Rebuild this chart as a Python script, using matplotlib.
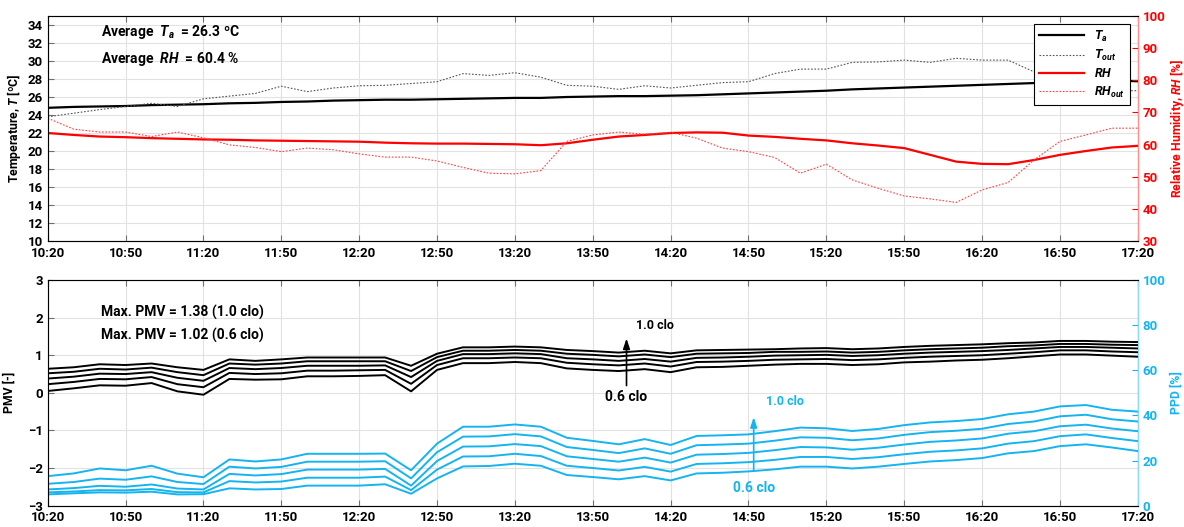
import numpy as np
import pandas as pd
import matplotlib
matplotlib.use("Agg")
import matplotlib.pyplot as plt
import matplotlib.dates as mdates
from matplotlib import font_manager

# --- dados (amostras a cada 10 min, 10:20 -> 17:20) ---
tempo = pd.date_range("2020-01-01 10:20", "2020-01-01 17:20", freq="10min")

t_a = [24.8, 24.9, 24.95, 25.0, 25.1, 25.15, 25.2, 25.3, 25.35, 25.45, 25.5, 25.6, 25.65, 25.7, 25.7,
       25.75, 25.8, 25.85, 25.9, 25.9, 26.0, 26.05, 26.1, 26.1, 26.15, 26.2, 26.3, 26.4, 26.5, 26.6,
       26.7, 26.85, 26.95, 27.05, 27.15, 27.25, 27.35, 27.45, 27.55, 27.65, 27.75, 27.85, 27.75]
t_out = [23.8, 24.2, 24.6, 24.95, 25.3, 24.95, 25.8, 26.1, 26.4, 27.2, 26.6, 27.0, 27.25, 27.3, 27.5,
         27.7, 28.6, 28.4, 28.7, 28.2, 27.3, 27.2, 26.85, 27.25, 27.0, 27.3, 27.6, 27.7, 28.6, 29.1,
         29.1, 29.85, 29.9, 30.1, 29.85, 30.3, 30.1, 30.1, 28.8, 27.8, 27.0, 26.7, 26.7]
rh = [63.6, 63.0, 62.5, 62.3, 62.0, 61.8, 61.6, 61.5, 61.3, 61.2, 61.1, 61.0, 60.9, 60.6, 60.4,
      60.3, 60.3, 60.2, 60.1, 59.8, 60.4, 61.5, 62.5, 63.0, 63.6, 63.8, 63.7, 62.8, 62.4, 61.8,
      61.3, 60.4, 59.7, 58.9, 56.8, 54.7, 54.0, 53.9, 55.2, 56.8, 58.0, 59.1, 59.6]
rh_out = [68.2, 64.8, 63.9, 63.9, 62.5, 63.9, 62.1, 59.9, 59.1, 57.8, 58.9, 58.4, 57.1, 56.1, 56.1,
          54.9, 52.9, 51.1, 50.9, 51.9, 61.0, 63.0, 63.9, 63.2, 63.8, 62.0, 58.9, 57.8, 56.0, 51.1,
          53.9, 49.0, 46.4, 44.0, 43.1, 42.0, 45.9, 48.2, 55.2, 61.0, 63.0, 65.1, 65.1]

pmv_06 = [0.05, 0.12, 0.20, 0.19, 0.26, 0.04, -0.05, 0.37, 0.35, 0.36, 0.44, 0.44, 0.45, 0.47, 0.04,
          0.61, 0.79, 0.79, 0.82, 0.79, 0.65, 0.61, 0.58, 0.63, 0.55, 0.68, 0.69, 0.72, 0.75, 0.77,
          0.77, 0.74, 0.76, 0.81, 0.83, 0.86, 0.88, 0.92, 0.97, 1.02, 1.02, 0.99, 0.96]
pmv_07 = [0.23, 0.29, 0.37, 0.36, 0.42, 0.23, 0.15, 0.53, 0.50, 0.52, 0.59, 0.59, 0.60, 0.61, 0.24,
          0.74, 0.92, 0.92, 0.94, 0.92, 0.80, 0.76, 0.73, 0.78, 0.70, 0.82, 0.83, 0.85, 0.88, 0.89,
          0.90, 0.87, 0.89, 0.93, 0.96, 0.98, 1.00, 1.04, 1.08, 1.13, 1.13, 1.10, 1.08]
pmv_08 = [0.38, 0.43, 0.51, 0.50, 0.55, 0.40, 0.32, 0.66, 0.63, 0.66, 0.72, 0.72, 0.72, 0.73, 0.42,
          0.85, 1.03, 1.03, 1.05, 1.03, 0.92, 0.89, 0.85, 0.90, 0.83, 0.93, 0.94, 0.96, 0.99, 1.00,
          1.01, 0.98, 1.00, 1.04, 1.07, 1.09, 1.11, 1.14, 1.18, 1.22, 1.22, 1.20, 1.18]
pmv_09 = [0.52, 0.56, 0.64, 0.62, 0.67, 0.55, 0.47, 0.78, 0.75, 0.78, 0.84, 0.84, 0.84, 0.84, 0.58,
          0.95, 1.12, 1.12, 1.14, 1.12, 1.04, 1.01, 0.97, 1.02, 0.95, 1.04, 1.05, 1.06, 1.09, 1.09,
          1.10, 1.07, 1.09, 1.13, 1.16, 1.18, 1.20, 1.24, 1.26, 1.30, 1.30, 1.28, 1.27]
pmv_10 = [0.64, 0.68, 0.76, 0.74, 0.78, 0.68, 0.61, 0.89, 0.85, 0.89, 0.94, 0.94, 0.94, 0.94, 0.72,
          1.04, 1.21, 1.21, 1.23, 1.21, 1.14, 1.11, 1.07, 1.12, 1.05, 1.13, 1.14, 1.15, 1.16, 1.18,
          1.19, 1.16, 1.18, 1.22, 1.25, 1.27, 1.29, 1.32, 1.34, 1.38, 1.38, 1.36, 1.35]

ppd_06 = [5.0, 5.5, 5.9, 5.8, 6.2, 5.0, 5.1, 7.7, 7.2, 7.4, 8.9, 8.9, 8.9, 9.5, 5.3,
          12.1, 17.4, 17.6, 18.6, 17.7, 13.6, 12.7, 11.7, 13.1, 11.2, 14.3, 14.6, 15.2, 16.1, 17.3,
          17.3, 16.5, 17.3, 18.5, 19.6, 20.2, 21.1, 23.2, 24.2, 26.4, 27.2, 25.8, 24.2]
ppd_07 = [5.9, 6.3, 6.9, 6.8, 7.4, 6.0, 5.9, 10.9, 10.3, 10.7, 12.4, 12.4, 12.4, 12.9, 6.9,
          16.0, 21.8, 21.9, 23.0, 22.0, 17.7, 16.7, 15.6, 17.2, 15.1, 18.5, 18.8, 19.3, 20.3, 21.6,
          21.6, 20.7, 21.5, 22.8, 23.9, 24.5, 25.4, 27.5, 28.6, 30.8, 31.6, 30.0, 28.6]
ppd_08 = [7.2, 7.8, 8.8, 8.4, 9.4, 7.6, 7.2, 14.1, 13.4, 14.0, 16.0, 16.0, 16.0, 16.3, 8.9,
          19.8, 26.2, 26.3, 27.3, 26.4, 21.9, 20.7, 19.5, 21.3, 19.1, 22.6, 22.9, 23.4, 24.6, 26.0,
          25.8, 24.8, 25.7, 27.1, 28.3, 28.9, 29.8, 31.9, 33.0, 35.2, 35.9, 34.2, 33.0]
ppd_09 = [9.7, 10.5, 12.0, 11.5, 13.0, 10.5, 9.6, 17.3, 16.5, 17.2, 19.5, 19.5, 19.5, 19.7, 12.1,
          23.7, 30.6, 30.7, 31.7, 30.7, 26.0, 24.7, 23.3, 25.4, 23.0, 26.8, 27.1, 27.5, 28.8, 30.3,
          30.1, 29.0, 29.8, 31.4, 32.6, 33.2, 34.1, 36.2, 37.3, 39.6, 40.3, 38.3, 37.3]
ppd_10 = [13.1, 14.3, 16.5, 15.7, 17.7, 14.2, 12.6, 20.5, 19.6, 20.5, 23.0, 23.0, 23.0, 23.1, 15.7,
          27.5, 35.0, 35.0, 36.0, 35.0, 30.1, 28.7, 27.2, 29.5, 26.9, 30.9, 31.2, 31.6, 33.0, 34.6,
          34.3, 33.1, 34.0, 35.7, 36.9, 37.5, 38.4, 40.5, 41.7, 44.0, 44.6, 42.5, 41.7]

pmv_series = [pmv_06, pmv_07, pmv_08, pmv_09, pmv_10]
ppd_series = [ppd_06, ppd_07, ppd_08, ppd_09, ppd_10]

# --- fonte estreita em negrito (se existir) ---
nomes = {f.name for f in font_manager.fontManager.ttflist}
fonte = "Liberation Sans Narrow" if "Liberation Sans Narrow" in nomes else "Roboto"
plt.rcParams["font.family"] = [fonte, "DejaVu Sans"]
plt.rcParams["font.weight"] = "bold"
plt.rcParams["mathtext.fontset"] = "custom"
plt.rcParams["mathtext.rm"] = fonte + ":bold"
plt.rcParams["mathtext.it"] = fonte + ":italic:bold"
plt.rcParams["mathtext.bf"] = fonte + ":bold"
plt.rcParams["axes.labelweight"] = "bold"

AZUL = "#14B4F0"
VERMELHO = "#FF0000"
CINZA_GRADE = "#E2E2E2"
FS = 9.5      # rótulos dos eixos
FS_TXT = 10   # anotações


def estilo_eixo(ax):
    ax.grid(True, color=CINZA_GRADE, linewidth=0.8)
    ax.set_axisbelow(True)
    ax.tick_params(direction="in", top=True, labelsize=FS, length=4, color="#707070")
    ax.tick_params(axis="x", pad=4)
    for s in ["left", "top", "bottom"]:
        ax.spines[s].set_color("#8A8A8A")
    ax.xaxis.set_major_locator(mdates.MinuteLocator(byminute=[20, 50]))
    ax.xaxis.set_major_formatter(mdates.DateFormatter("%H:%M"))
    ax.set_xlim(tempo[0], tempo[-1])


fig = plt.figure(figsize=(11.84, 5.27), dpi=100)
ax1 = fig.add_axes([0.0403, 0.5427, 0.9207, 0.4269])
ax2 = fig.add_axes([0.0403, 0.0404, 0.9207, 0.4283])

# ---------------- painel superior ----------------
estilo_eixo(ax1)
l1, = ax1.plot(tempo, t_a, color="black", lw=1.6, label=r"$T_a$")
l2, = ax1.plot(tempo, t_out, color="#555555", lw=0.8, ls=(0, (1.5, 1.5)), label=r"$T_{out}$")
ax1.set_ylim(10, 35)
ax1.set_yticks(np.arange(10, 35, 2))
ax1.set_ylabel(r"Temperature, $T$ [ºC]", fontsize=8.8, labelpad=3)

ax1r = ax1.twinx()
l3, = ax1r.plot(tempo, rh, color=VERMELHO, lw=1.6, label=r"$RH$")
l4, = ax1r.plot(tempo, rh_out, color="#FF4040", lw=0.8, ls=(0, (1.5, 1.5)), label=r"$RH_{out}$")
ax1r.set_ylim(30, 100)
ax1r.set_yticks(np.arange(30, 101, 10))
ax1r.tick_params(direction="in", colors=VERMELHO, labelsize=FS, length=4)
ax1r.spines["right"].set_color("#FF9090")
ax1r.set_ylabel(r"Relative Humidity, $RH$ [%]", color=VERMELHO, fontsize=8.8, labelpad=2)

leg = ax1r.legend(handles=[l1, l2, l3, l4], loc="upper right", fontsize=9,
                  fancybox=False, edgecolor="black", framealpha=1, handlelength=3.6,
                  borderaxespad=0.6, labelspacing=0.35)
leg.get_frame().set_linewidth(0.8)

ax1.text(0.049, 0.93, r"Average  $T_a$  = 26.3 ºC", transform=ax1.transAxes, fontsize=FS_TXT, va="center")
ax1.text(0.049, 0.81, r"Average  $RH$  = 60.4 %", transform=ax1.transAxes, fontsize=FS_TXT, va="center")

# ---------------- painel inferior ----------------
estilo_eixo(ax2)
for serie in pmv_series:
    ax2.plot(tempo, serie, color="black", lw=1.4)
ax2.set_ylim(-3, 3)
ax2.set_yticks(np.arange(-3, 4, 1))
ax2.set_ylabel("PMV [-]", fontsize=8.8, labelpad=9)

ax2r = ax2.twinx()
for serie in ppd_series:
    ax2r.plot(tempo, serie, color=AZUL, lw=1.4)
ax2r.set_ylim(0, 100)
ax2r.set_yticks(np.arange(0, 101, 20))
ax2r.tick_params(direction="in", colors=AZUL, labelsize=FS, length=4)
ax2r.spines["right"].set_color("#8FD8F8")
ax2r.set_ylabel("PPD [%]", color=AZUL, fontsize=8.8, labelpad=3)

ax2.text(0.049, 0.855, "Max. PMV = 1.38 (1.0 clo)", transform=ax2.transAxes, fontsize=FS_TXT, va="center")
ax2.text(0.049, 0.755, "Max. PMV = 1.02 (0.6 clo)", transform=ax2.transAxes, fontsize=FS_TXT, va="center")

# setas indicando o aumento do isolamento da roupa
x_seta_pmv = pd.Timestamp("2020-01-01 14:03")
ax2.annotate("", xy=(x_seta_pmv, 1.52), xytext=(x_seta_pmv, 0.12),
             arrowprops=dict(arrowstyle="-|>,head_length=0.6,head_width=0.2", color="black", lw=1.2))
ax2.text(pd.Timestamp("2020-01-01 14:14"), 1.78, "1.0 clo", fontsize=9, ha="center", va="center")
ax2.text(x_seta_pmv, -0.1, "0.6 clo", fontsize=FS_TXT, ha="center", va="center")

x_seta_ppd = pd.Timestamp("2020-01-01 14:52")
ax2r.annotate("", xy=(x_seta_ppd, 40.5), xytext=(x_seta_ppd, 14.5),
              arrowprops=dict(arrowstyle="-|>,head_length=0.6,head_width=0.2", color=AZUL, lw=1.2))
ax2r.text(pd.Timestamp("2020-01-01 15:04"), 46, "1.0 clo", color=AZUL, fontsize=9, ha="center", va="center")
ax2r.text(x_seta_ppd, 7.8, "0.6 clo", color=AZUL, fontsize=FS_TXT, ha="center", va="center")

fig.savefig("out.png", dpi=100)
